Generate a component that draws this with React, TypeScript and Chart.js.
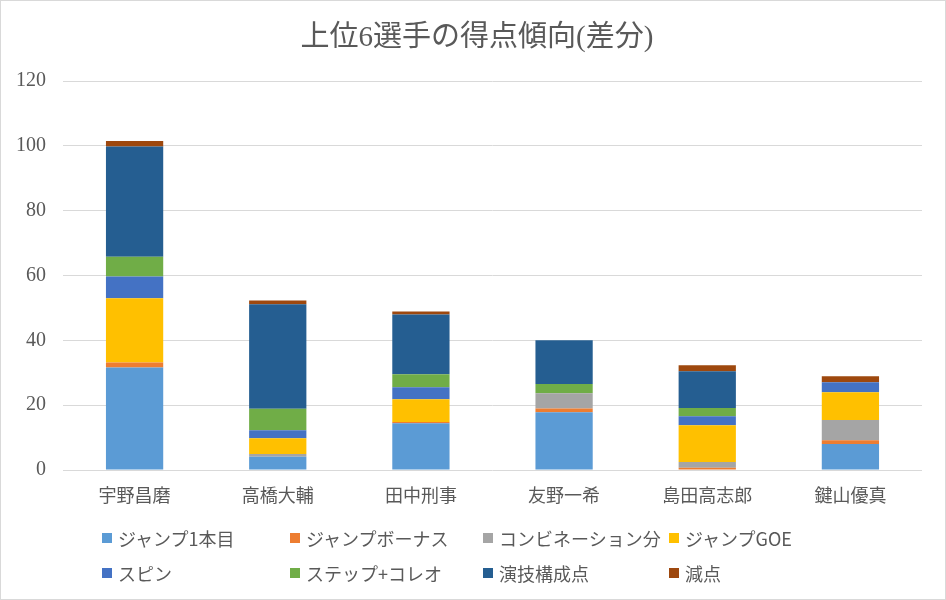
import React, { useEffect, useRef } from "react";
import { Chart, registerables } from "chart.js";

Chart.register(...registerables);

const skaters: string[] = ["宇野昌磨", "高橋大輔", "田中刑事", "友野一希", "島田高志郎", "鍵山優真"];

const jumpFirst: number[] = [31.6, 4.1, 14.4, 17.8, 0, 8.0];
const jumpBonus: number[] = [1.6, 0, 0.4, 1.2, 0.7, 1.2];
const combination: number[] = [0, 0.8, 0, 4.7, 1.8, 6.2];
const jumpGoe: number[] = [19.8, 4.9, 7.0, 0, 11.3, 8.6];
const spin: number[] = [6.7, 2.5, 3.7, 0, 2.8, 3.1];
const stepChoreo: number[] = [6.1, 6.6, 4.0, 2.8, 2.5, 0];
const components: number[] = [34.0, 32.2, 18.5, 13.5, 11.4, 0];
const deductions: number[] = [1.7, 1.2, 0.9, 0, 1.8, 1.8];

const seriesNames: string[] = [
  "ジャンプ1本目",
  "ジャンプボーナス",
  "コンビネーション分",
  "ジャンプGOE",
  "スピン",
  "ステップ+コレオ",
  "演技構成点",
  "減点",
];
const seriesValues: number[][] = [jumpFirst, jumpBonus, combination, jumpGoe, spin, stepChoreo, components, deductions];
const seriesColors: string[] = ["#5B9BD5", "#ED7D31", "#A5A5A5", "#FFC000", "#4472C4", "#70AD47", "#255E91", "#9E480E"];

const yTicks: number[] = [0, 20, 40, 60, 80, 100, 120];

const chartTitle = "上位6選手の得点傾向(差分)";

const textColor = "#595959";
const sansFont = '"Noto Sans CJK JP", "Noto Sans", sans-serif';
const serifFont = '"Liberation Serif", "Noto Sans CJK JP", serif';

// legend grid: 4 columns, 2 rows (Excel style)
const legendCols: number[] = [102, 290, 483, 669];
const legendRows: number[] = [533, 568];

const App: React.FC = () => {
  const chartRef = useRef<HTMLCanvasElement>(null);

  useEffect(() => {
    const ctx = chartRef.current;
    if (!ctx) return;

    const chart = new Chart(ctx, {
      type: "bar",
      data: {
        labels: skaters,
        datasets: seriesNames.map((name, i) => ({
          label: name,
          data: seriesValues[i],
          backgroundColor: seriesColors[i],
          borderWidth: 0,
          barPercentage: 0.4,
          categoryPercentage: 1,
        })),
      },
      options: {
        animation: false,
        responsive: false,
        layout: { padding: { left: 0, right: 24, top: 81, bottom: 0 } },
        plugins: {
          legend: { display: false },
          tooltip: { enabled: false },
          title: { display: false },
        },
        scales: {
          x: {
            stacked: true,
            grid: { display: false, drawTicks: false },
            border: { display: false },
            ticks: {
              color: textColor,
              font: { family: sansFont, size: 18 },
              padding: 14,
              maxRotation: 0,
            },
            afterFit: (scale: any) => {
              scale.height = 130;
            },
          },
          y: {
            stacked: true,
            min: 0,
            max: 120,
            afterBuildTicks: (scale: any) => {
              scale.ticks = yTicks.map((v) => ({ value: v }));
            },
            grid: { color: "#d9d9d9", lineWidth: 1, drawTicks: false },
            border: { display: false },
            ticks: {
              color: textColor,
              font: { family: serifFont, size: 20 },
              padding: 17,
            },
            afterFit: (scale: any) => {
              scale.width = 63;
            },
          },
        },
      },
    });

    return () => {
      chart.destroy();
    };
  }, []);

  return (
    <div
      style={{
        position: "fixed",
        left: 0,
        top: 0,
        width: 946,
        height: 600,
        background: "#ffffff",
      }}
    >
      <canvas ref={chartRef} width={946} height={600} style={{ position: "absolute", left: 0, top: 0 }}></canvas>
      <div
        style={{
          position: "absolute",
          left: 0,
          top: 18,
          width: 954,
          textAlign: "center",
          fontFamily: serifFont,
          fontSize: 29,
          lineHeight: "36px",
          color: textColor,
          whiteSpace: "nowrap",
        }}
      >
        {chartTitle}
      </div>
      {seriesNames.map((name, i) => (
        <div
          key={name}
          style={{
            position: "absolute",
            left: legendCols[i % 4],
            top: legendRows[Math.floor(i / 4)] - 8,
            height: 26,
            display: "flex",
            alignItems: "center",
            fontFamily: sansFont,
            fontSize: 18,
            color: textColor,
            whiteSpace: "nowrap",
          }}
        >
          <span style={{ display: "inline-block", width: 10, height: 10, background: seriesColors[i], marginRight: 6 }}></span>
          {name}
        </div>
      ))}
      <div
        style={{
          position: "absolute",
          left: 0,
          top: 0,
          width: 946,
          height: 600,
          boxSizing: "border-box",
          border: "1px solid #d9d9d9",
          pointerEvents: "none",
        }}
      ></div>
    </div>
  );
};

export default App;
